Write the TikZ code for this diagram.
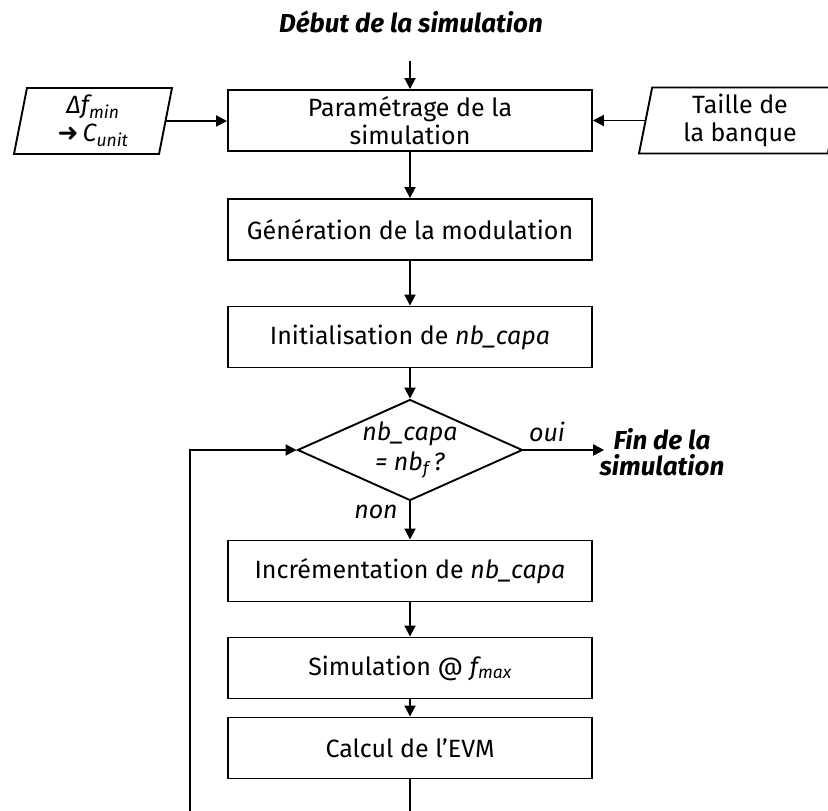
\documentclass[tikz,border=0pt]{standalone}
\usepackage{fontspec}
\setmainfont{Fira Sans}
\newfontfamily\symfont{DejaVu Sans}
\usetikzlibrary{shapes.geometric,arrows.meta}
\begin{document}
\begin{tikzpicture}[x=1pt,y=-1pt,
  every node/.style={font=\fontsize{25}{28}\selectfont},
  procbox/.style={draw, line width=1.9pt, minimum width=364pt, minimum height=61pt, inner sep=0pt, align=center},
  iobox/.style={draw, line width=1.9pt, trapezium, trapezium left angle=76, trapezium right angle=104,
     trapezium stretches body=true, minimum height=66pt, inner sep=0pt, align=center},
  decision/.style={draw, line width=1.9pt, diamond, aspect=2.2, inner sep=-8pt, minimum width=225pt, minimum height=101pt, align=center, font=\fontsize{25}{30}\selectfont},
  titletext/.style={font=\fontsize{26}{26}\selectfont\bfseries\itshape, align=center},
  lbl/.style={font=\fontsize{25}{26}\selectfont\itshape},
  arr/.style={line width=1.9pt, -{Triangle[length=11pt,width=11pt]}},
  plainline/.style={line width=1.9pt}
]
\useasboundingbox (0,0) rectangle (828,811);

\node[titletext] (start) at (411,22) {Début de la simulation};
\node[procbox] (b1) at (410,120.5) {Paramétrage de la\\simulation};
\node[iobox, minimum width=158pt] (df) at (93,121) {\textit{Δf\textsubscript{min}}\\{\symfont\bfseries ➜}\,\textit{C\textsubscript{unit}}};
\node[iobox, minimum width=202pt] (tb) at (740,120.5) {Taille de\\la banque};
\node[procbox] (b2) at (410,229.5) {Génération de la modulation};
\node[procbox] (b3) at (410,337) {Initialisation de \textit{nb\_capa}};
\node[decision] (dec) at (410,450) {\textit{nb\_capa}\\\textit{= nb\textsubscript{f}\,?}};
\node[titletext] (fin) at (662,452) {Fin de la\\simulation};
\node[lbl] (oui) at (547,432) {oui};
\node[lbl] (non) at (376,512) {non};
\node[procbox] (b4) at (410,571) {Incrémentation de \textit{nb\_capa}};
\node[procbox] (b5) at (410,668) {Simulation @ \textit{f\textsubscript{max}}};
\node[procbox] (b6) at (410,748) {Calcul de l’EVM};
\coordinate (loopb) at (190,811);
\coordinate (endc) at (410,811);

\draw[arr, shorten <=24pt] (start.south -| b1.north) -- (b1.north);
\draw[arr] (df.east) -- (df.east -| b1.west);
\draw[arr] (tb.west) -- (tb.west -| b1.east);
\draw[arr] (b1) -- (b2);
\draw[arr] (b2) -- (b3);
\draw[arr] (b3) -- (dec);
\draw[arr] (dec) -- (b4);
\draw[arr] (b4) -- (b5);
\draw[arr] (b5) -- (b6);
\draw[plainline] (b6) -- (endc);
\draw[arr] (loopb) |- (dec.west);
\draw[arr] (dec.east) -- ([xshift=8pt]fin.west |- dec.east);
\end{tikzpicture}
\end{document}
